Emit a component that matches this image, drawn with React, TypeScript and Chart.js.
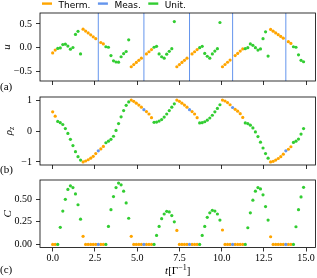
import React, { useEffect, useRef } from "react";
import { Chart, registerables } from "chart.js";
Chart.register(...registerables);

const W = 317;
const H = 278;

// ---------------- data ----------------
const time = [
  0, 0.15, 0.3, 0.45, 0.6, 0.75, 0.9, 1.05, 1.2, 1.35,
  1.5, 1.65, 1.8, 1.95, 2.1, 2.25, 2.4, 2.55, 2.7, 2.85,
  3.0, 3.15, 3.3, 3.45, 3.6, 3.75, 3.9, 4.05, 4.2, 4.35,
  4.5, 4.65, 4.8, 4.95, 5.1, 5.25, 5.4, 5.55, 5.7, 5.85,
  6.0, 6.15, 6.3, 6.45, 6.6, 6.75, 6.9, 7.05, 7.2, 7.35,
  7.5, 7.65, 7.8, 7.95, 8.1, 8.25, 8.4, 8.55, 8.7, 8.85,
  9.0, 9.15, 9.3, 9.45, 9.6, 9.75, 9.9, 10.05, 10.2, 10.35,
  10.5, 10.65, 10.8, 10.95, 11.1, 11.25, 11.4, 11.55, 11.7, 11.85,
  12.0, 12.15, 12.3, 12.45, 12.6, 12.75, 12.9, 13.05, 13.2, 13.35,
  13.5, 13.65, 13.8, 13.95, 14.1, 14.25, 14.4, 14.55, 14.7, 14.85,
];

// T = thermalisation, M = measurement, U = unitary
const phase = (
  "TT" + "UUUUUUUUUU" + "TTTTTTMTT" +
  "UUUUUUUUUU" + "TTTTTMTTT" +
  "UUUUUUUUU" + "TTTTTMTTT" +
  "UUUUUUUUU" + "TTTTMTTTT" +
  "UUUUUUUUUU" + "TTTTTTMTT" +
  "UUUUU"
).split("");

const uVals = [
  -0.11, -0.05,
  -0.015, -0.005, 0.065, 0.075, 0.035, -0.03, 0.005, 0.28, 0.345, -0.13,
  0.39, 0.35, 0.31, 0.27, 0.23, 0.19, 0.15, 0.11, 0.08,
  0.02, 0.01, -0.165, -0.275, -0.3, -0.305, -0.19, -0.125, -0.08, 0.165,
  -0.4, -0.355, -0.31, -0.265, -0.22, -0.175, -0.13, -0.085, -0.04,
  0.01, 0.03, -0.13, -0.19, -0.22, -0.135, -0.075, -0.02, 0.55,
  -0.4, -0.355, -0.31, -0.265, -0.22, -0.175, -0.13, -0.085, -0.04,
  0.0, 0.03, -0.12, -0.18, -0.22, -0.13, -0.07, -0.02, 0.53,
  -0.4, -0.353, -0.306, -0.26, -0.21, -0.165, -0.12, -0.07, -0.025,
  -0.02, 0.0, 0.08, 0.05, 0.0, -0.05, -0.025, 0.19, 0.335, -0.175,
  0.385, 0.348, 0.311, 0.274, 0.237, 0.2, 0.163, 0.126, 0.09,
  0.02, 0.01, -0.15, -0.265, -0.295,
];

const rhoVals = [
  0.62, 0.48,
  0.31, 0.27, 0.21, 0.08, -0.08, -0.27, -0.47, -0.67, -0.83, -0.94,
  -1.0, -0.97, -0.93, -0.88, -0.82, -0.73, -0.64, -0.58, -0.5,
  -0.38, -0.33, -0.27, -0.17, 0.02, 0.24, 0.46, 0.66, 0.83, 0.94,
  1.0, 0.96, 0.9, 0.84, 0.77, 0.69, 0.63, 0.55, 0.43,
  0.28, 0.29, 0.32, 0.37, 0.45, 0.55, 0.66, 0.77, 0.88,
  1.0, 0.96, 0.9, 0.84, 0.77, 0.69, 0.63, 0.55, 0.43,
  0.26, 0.27, 0.3, 0.35, 0.42, 0.51, 0.62, 0.73, 0.85,
  1.0, 0.97, 0.92, 0.85, 0.76, 0.7, 0.64, 0.56, 0.44,
  0.26, 0.24, 0.19, 0.1, -0.03, -0.18, -0.36, -0.55, -0.73, -0.88,
  -1.0, -0.98, -0.94, -0.89, -0.83, -0.75, -0.64, -0.59, -0.51,
  -0.37, -0.33, -0.26, -0.1, 0.08,
];

const cVals = [
  0, 0,
  0, 0.19, 0.37, 0.5, 0.61, 0.65, 0.63, 0.56, 0.44, 0.28,
  0.09, 0, 0, 0, 0, 0, 0, 0, 0,
  0, 0.2, 0.385, 0.53, 0.63, 0.68, 0.66, 0.59, 0.46, 0.29,
  0.09, 0, 0, 0, 0, 0, 0, 0, 0,
  0, 0.1, 0.2, 0.285, 0.337, 0.367, 0.36, 0.32, 0.25,
  0.155, 0, 0, 0, 0, 0, 0, 0, 0,
  0, 0.1, 0.2, 0.3, 0.35, 0.378, 0.37, 0.337, 0.27,
  0.16, 0, 0, 0, 0, 0, 0, 0, 0,
  0, 0.185, 0.35, 0.49, 0.59, 0.63, 0.615, 0.55, 0.42, 0.27,
  0.085, 0, 0, 0, 0, 0, 0, 0, 0,
  0, 0.196, 0.385, 0.526, 0.633,
];

const seriesNames = ["Therm.", "Meas.", "Unit."];
const seriesCodes = ["T", "M", "U"];

const xTicks = [0, 2.5, 5, 7.5, 10, 12.5, 15];
const xTickLabels = ["0.0", "2.5", "5.0", "7.5", "10.0", "12.5", "15.0"];
const uTicks = [-0.5, 0, 0.5];
const uTickLabels = ["\u22120.5", "0.0", "0.5"];
const rhoTicks = [-1, 0, 1];
const rhoTickLabels = ["\u22121", "0", "1"];
const cTicks = [0, 0.25, 0.5];
const cTickLabels = ["0.00", "0.25", "0.50"];

// ---------------- styles ----------------
const COLORS = ["#ffa500", "#6495ed", "#32cd32"];
const SERIF = "'Liberation Serif', 'DejaVu Serif', serif";
const SANS = "'DejaVu Sans', 'Liberation Sans', sans-serif";

type Run = { text: string; font: string; dy: number };

function drawRuns(ctx: CanvasRenderingContext2D, runs: Run[], cx: number, baseY: number) {
  let total = 0;
  const widths = runs.map((r) => {
    ctx.font = r.font;
    const w = ctx.measureText(r.text).width;
    total += w;
    return w;
  });
  let x = cx - total / 2;
  ctx.textAlign = "left";
  ctx.textBaseline = "alphabetic";
  runs.forEach((r, i) => {
    ctx.font = r.font;
    ctx.fillText(r.text, x, baseY + r.dy);
    x += widths[i];
  });
}

function pts(values: number[], code: string) {
  const out: { x: number; y: number }[] = [];
  time.forEach((t, i) => {
    if (phase[i] === code) out.push({ x: t, y: values[i] });
  });
  return out;
}

type PanelCfg = {
  values: number[];
  yMin: number;
  yMax: number;
  yTicks: number[];
  yTickLabels: string[];
  top: number;
  bottom: number;
  xh: number;
  showXLabels: boolean;
  showMeas: boolean;
  vlines: boolean;
  legend: boolean;
  xTitle: boolean;
  panelLabel: string;
  panelLabelY: number;
  yTitle: Run[];
  yTitleX: number;
};

function makeChart(canvas: HTMLCanvasElement, cfg: PanelCfg) {
  const deco = {
    id: "deco",
    beforeDatasetsDraw(chart: any) {
      if (!cfg.vlines) return;
      const ctx = chart.ctx as CanvasRenderingContext2D;
      const a = chart.chartArea;
      const xs = chart.scales.x;
      ctx.save();
      ctx.strokeStyle = COLORS[1];
      ctx.lineWidth = 1;
      time.forEach((t, i) => {
        if (phase[i] !== "M") return;
        const px = xs.getPixelForValue(t);
        ctx.beginPath();
        ctx.moveTo(px, a.top);
        ctx.lineTo(px, a.bottom);
        ctx.stroke();
      });
      ctx.restore();
    },
    afterDraw(chart: any) {
      const ctx = chart.ctx as CanvasRenderingContext2D;
      const a = chart.chartArea;
      ctx.save();
      ctx.strokeStyle = "#000";
      ctx.lineWidth = 0.8;
      ctx.strokeRect(a.left, a.top, a.right - a.left, a.bottom - a.top);
      ctx.fillStyle = "#000";
      // panel label
      ctx.font = `11px ${SERIF}`;
      ctx.textAlign = "left";
      ctx.textBaseline = "alphabetic";
      ctx.fillText(cfg.panelLabel, 0, cfg.panelLabelY);
      // y title (rotated)
      ctx.save();
      ctx.translate(cfg.yTitleX, (a.top + a.bottom) / 2);
      ctx.rotate(-Math.PI / 2);
      drawRuns(ctx, cfg.yTitle, 0, 0);
      ctx.restore();
      // x title
      if (cfg.xTitle) {
        drawRuns(
          ctx,
          [
            { text: "t", font: `italic 11px ${SERIF}`, dy: 0 },
            { text: "[\u0393", font: `11px ${SERIF}`, dy: 0 },
            { text: "\u22121", font: `8px ${SERIF}`, dy: -4 },
            { text: "]", font: `11px ${SERIF}`, dy: 0 },
          ],
          (a.left + a.right) / 2,
          274
        );
      }
      // legend
      if (cfg.legend) {
        let x = 42;
        const ly = 3.6;
        ctx.font = `9px ${SANS}`;
        seriesNames.forEach((name, i) => {
          ctx.strokeStyle = COLORS[i];
          ctx.lineWidth = 2.4;
          ctx.beginPath();
          ctx.moveTo(x, ly);
          ctx.lineTo(x + 10, ly);
          ctx.stroke();
          x += 16.5;
          ctx.fillStyle = "#000";
          ctx.font = `9px ${SANS}`;
          ctx.textAlign = "left";
          ctx.textBaseline = "alphabetic";
          ctx.fillText(name, x, 7.8);
          x += ctx.measureText(name).width + 7.5;
        });
      }
      ctx.restore();
    },
  };

  const datasets = seriesNames.map((name, i) => ({
    label: name,
    data: i === 1 && !cfg.showMeas ? [] : pts(cfg.values, seriesCodes[i]),
    backgroundColor: COLORS[i],
    borderColor: COLORS[i],
    borderWidth: 0,
    pointRadius: 1.6,
    pointHoverRadius: 1.6,
    order: 3 - i,
  }));

  return new Chart(canvas, {
    type: "scatter",
    data: { datasets },
    options: {
      responsive: false,
      animation: false,
      devicePixelRatio: 1,
      events: [],
      layout: {
        padding: { left: 0, right: 1, top: cfg.top, bottom: H - cfg.bottom - cfg.xh },
      },
      plugins: {
        legend: { display: false },
        tooltip: { enabled: false },
      },
      scales: {
        x: {
          type: "linear",
          min: -0.75,
          max: 15.55,
          afterBuildTicks: (s: any) => {
            s.ticks = xTicks.map((v) => ({ value: v }));
          },
          afterFit: (s: any) => {
            s.height = cfg.xh;
          },
          border: { display: false },
          grid: {
            drawOnChartArea: false,
            drawTicks: true,
            tickLength: 4,
            color: "#000",
            lineWidth: 0.8,
          },
          ticks: {
            display: cfg.showXLabels,
            autoSkip: false,
            maxRotation: 0,
            padding: 1,
            color: "#000",
            font: { family: SERIF, size: 10 },
            callback: (_v: any, i: number) => xTickLabels[i],
          },
        },
        y: {
          type: "linear",
          min: cfg.yMin,
          max: cfg.yMax,
          afterBuildTicks: (s: any) => {
            s.ticks = cfg.yTicks.map((v) => ({ value: v }));
          },
          afterFit: (s: any) => {
            s.width = 40;
          },
          border: { display: false },
          grid: {
            drawOnChartArea: false,
            drawTicks: true,
            tickLength: 4,
            color: "#000",
            lineWidth: 0.8,
          },
          ticks: {
            autoSkip: false,
            padding: 4,
            color: "#000",
            font: { family: SERIF, size: 10 },
            callback: (_v: any, i: number) => cfg.yTickLabels[i],
          },
        },
      },
    },
    plugins: [deco as any],
  } as any);
}

const panelA: PanelCfg = {
  values: uVals,
  yMin: -0.7,
  yMax: 0.73,
  yTicks: uTicks,
  yTickLabels: uTickLabels,
  top: 13,
  bottom: 81,
  xh: 8,
  showXLabels: false,
  showMeas: false,
  vlines: true,
  legend: true,
  xTitle: false,
  panelLabel: "(a)",
  panelLabelY: 89.5,
  yTitle: [{ text: "u", font: `italic 11px ${SERIF}`, dy: 0 }],
  yTitleX: 9.5,
};

const panelB: PanelCfg = {
  values: rhoVals,
  yMin: -1.1,
  yMax: 1.1,
  yTicks: rhoTicks,
  yTickLabels: rhoTickLabels,
  top: 97,
  bottom: 165,
  xh: 8,
  showXLabels: false,
  showMeas: true,
  vlines: false,
  legend: false,
  xTitle: false,
  panelLabel: "(b)",
  panelLabelY: 172.5,
  yTitle: [
    { text: "\u03c1", font: `italic 11px ${SERIF}`, dy: 0 },
    { text: "z", font: `italic 8px ${SERIF}`, dy: 2.5 },
  ],
  yTitleX: 11.5,
};

const panelC: PanelCfg = {
  values: cVals,
  yMin: -0.034,
  yMax: 0.714,
  yTicks: cTicks,
  yTickLabels: cTickLabels,
  top: 180,
  bottom: 247.5,
  xh: 30.5,
  showXLabels: true,
  showMeas: true,
  vlines: false,
  legend: false,
  xTitle: true,
  panelLabel: "(c)",
  panelLabelY: 273,
  yTitle: [{ text: "C", font: `italic 11px ${SERIF}`, dy: 0 }],
  yTitleX: 10.5,
};

export default function App() {
  const refA = useRef<HTMLCanvasElement>(null);
  const refB = useRef<HTMLCanvasElement>(null);
  const refC = useRef<HTMLCanvasElement>(null);

  useEffect(() => {
    const charts = [
      makeChart(refA.current!, panelA),
      makeChart(refB.current!, panelB),
      makeChart(refC.current!, panelC),
    ];
    return () => charts.forEach((c) => c.destroy());
  }, []);

  const cs: React.CSSProperties = { position: "absolute", left: 0, top: 0, width: W, height: H };
  return (
    <div style={{ position: "fixed", left: 0, top: 0, width: W, height: H, background: "#fff" }}>
      <canvas ref={refA} width={W} height={H} style={cs} />
      <canvas ref={refB} width={W} height={H} style={cs} />
      <canvas ref={refC} width={W} height={H} style={cs} />
    </div>
  );
}
